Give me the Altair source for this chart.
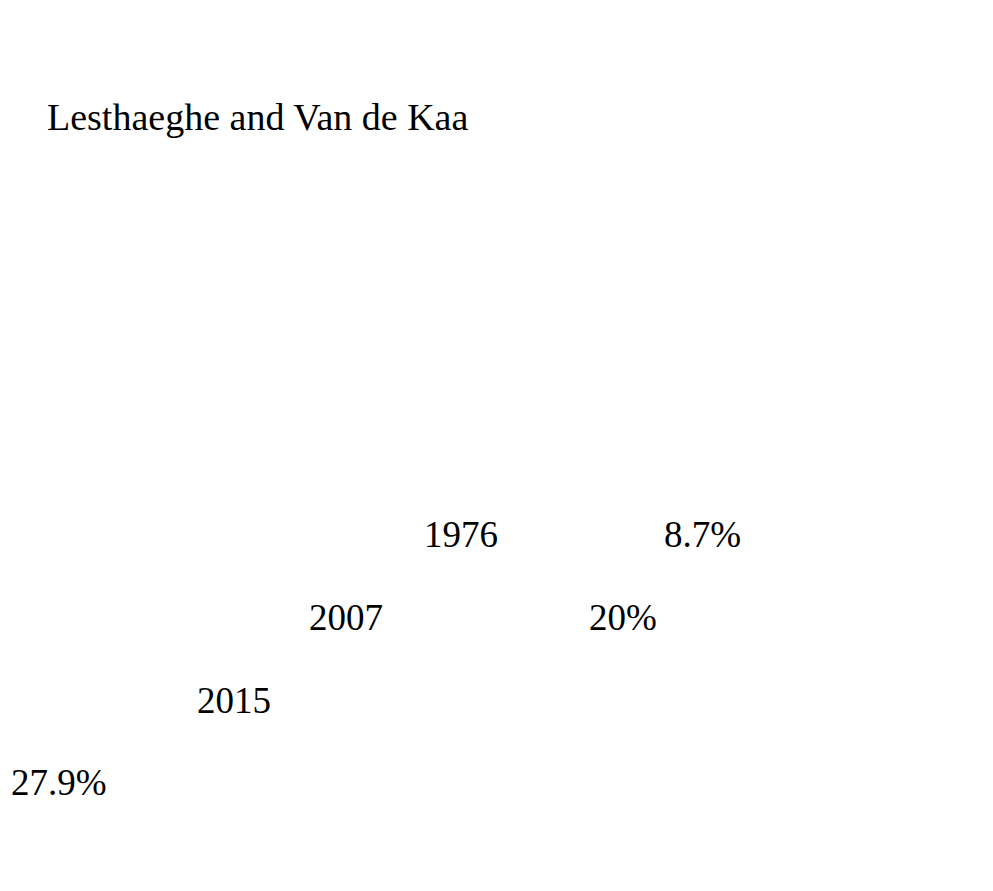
import altair as alt
import pandas as pd

# Text items as they appear on the page (left edge / baseline, in page pixels)
labels = ["Lesthaeghe and Van de Kaa", "1976", "8.7%", "2007", "20%", "2015", "27.9%"]
left_px = [47, 424, 664, 309, 589, 197, 11]
baseline_px = [130, 547, 547, 630, 630, 713, 795]
font_sizes = [38, 37, 37, 37, 37, 37, 37]

W, H = 960, 860
MARGIN = 8

df = pd.DataFrame({
    "label": labels,
    "x": [v - MARGIN for v in left_px],
    "y": [v - MARGIN for v in baseline_px],
    "size": font_sizes,
})

chart = alt.Chart(df).mark_text(
    align="left",
    baseline="alphabetic",
    font="Liberation Serif",
    color="black",
).encode(
    x=alt.X("x:Q", scale=alt.Scale(domain=[0, W], nice=False, zero=False), axis=None),
    y=alt.Y("y:Q", scale=alt.Scale(domain=[0, H], nice=False, zero=False, reverse=True), axis=None),
    text="label:N",
    size=alt.Size("size:Q", scale=None, legend=None),
).properties(
    width=W,
    height=H,
    padding=0,
    background="white",
    autosize=alt.AutoSizeParams(type="none"),
).configure_view(stroke=None, strokeWidth=0)

chart.save("out.html", embed_options={"renderer": "svg", "actions": False})
